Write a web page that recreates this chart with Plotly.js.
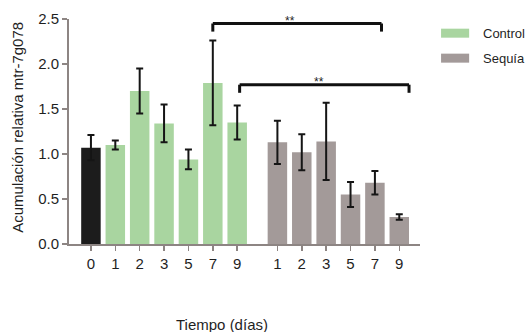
<!DOCTYPE html>
<html>
<head>
<meta charset="utf-8">
<script src="https://cdn.plot.ly/plotly-3.0.1.min.js"></script>
<style>html,body{margin:0;padding:0;background:#fff;}#chart{width:527px;height:332px;}</style>
</head>
<body>
<div id="chart"></div>
<script>
// ---- data ----
const baseDay = ["0"];
const baseValue = [1.07];
const baseErr = [0.14];

const controlDays = ["1", "2", "3", "5", "7", "9"];
const controlValues = [1.10, 1.70, 1.34, 0.94, 1.79, 1.35];
const controlErr = [0.05, 0.25, 0.21, 0.11, 0.47, 0.19];

const sequiaDays = ["1", "2", "3", "5", "7", "9"];
const sequiaValues = [1.13, 1.02, 1.14, 0.55, 0.68, 0.30];
const sequiaErr = [0.24, 0.20, 0.43, 0.14, 0.13, 0.03];

const seriesNames = ["Control", "Sequía"];
const yTitle = "Acumulación relativa mtr-7g078";
const xTitle = "Tiempo (días)";
const sigLabel = "**";

// ---- layout positions (computed) ----
const groupGap = 0.65;
const basePos = [0];
const controlPos = controlDays.map((d, i) => i + 1);
const sequiaPos = sequiaDays.map((d, i) => controlDays.length + 1 + groupGap + i);
const xRange = [-0.9, sequiaPos[sequiaPos.length - 1] + 0.85];
const yMax = 2.5;

const green = "#a9d5a0";
const grey = "#a39a99";
const axisCol = "#8d8583";
const errStyle = (arr) => ({type: "data", array: arr, visible: true, color: "#151515", thickness: 2, width: 3.5});

const traces = [
  {type: "bar", x: basePos, y: baseValue, error_y: errStyle(baseErr), marker: {color: "#1c1c1c"}, width: 0.8, showlegend: false, name: "0"},
  {type: "bar", x: controlPos, y: controlValues, error_y: errStyle(controlErr), marker: {color: green}, width: 0.8, showlegend: false, name: seriesNames[0]},
  {type: "bar", x: sequiaPos, y: sequiaValues, error_y: errStyle(sequiaErr), marker: {color: grey}, width: 0.8, showlegend: false, name: seriesNames[1]}
];

const py = v => v / yMax; // value -> paper y
function bracket(x0, x1, yTop, yDrop) {
  const line = {color: "#111", width: 3};
  return [
    {type: "line", xref: "x", yref: "paper", x0: x0, x1: x1, y0: py(yTop), y1: py(yTop), line: line},
    {type: "line", xref: "x", yref: "paper", x0: x0, x1: x0, y0: py(yTop), y1: py(yDrop), line: line},
    {type: "line", xref: "x", yref: "paper", x0: x1, x1: x1, y0: py(yTop), y1: py(yDrop), line: line}
  ];
}

const shapes = [].concat(
  bracket(controlPos[4], sequiaPos[4] + 0.27, 2.45, 2.36),
  bracket(controlPos[5] + 0.1, sequiaPos[5] + 0.4, 1.77, 1.68),
  [
    {type: "rect", xref: "paper", yref: "paper", x0: 1.06, x1: 1.14, y0: 0.917, y1: 0.957, fillcolor: green, line: {width: 0}},
    {type: "rect", xref: "paper", yref: "paper", x0: 1.06, x1: 1.14, y0: 0.806, y1: 0.846, fillcolor: grey, line: {width: 0}}
  ]
);

const font = {family: "Liberation Sans, Arial, sans-serif", color: "#1f1f1f"};
const annotations = [
  {text: sigLabel, xref: "x", yref: "paper", x: 8.17, y: py(2.58), showarrow: false, font: Object.assign({}, font, {size: 12})},
  {text: sigLabel, xref: "x", yref: "paper", x: 9.36, y: py(1.90), showarrow: false, font: Object.assign({}, font, {size: 12})},
  {text: seriesNames[0], xref: "paper", yref: "paper", x: 1.174, y: 0.937, xanchor: "left", yanchor: "middle", showarrow: false, font: Object.assign({}, font, {size: 13})},
  {text: seriesNames[1], xref: "paper", yref: "paper", x: 1.174, y: 0.826, xanchor: "left", yanchor: "middle", showarrow: false, font: Object.assign({}, font, {size: 13})},
  {text: yTitle, xref: "paper", yref: "paper", x: -0.145, y: 0.517, textangle: -90, xanchor: "center", yanchor: "middle", showarrow: false, font: Object.assign({}, font, {size: 15})},
  {text: xTitle, xref: "paper", yref: "paper", x: 0.436, y: -0.356, xanchor: "center", yanchor: "middle", showarrow: false, font: Object.assign({}, font, {size: 15})}
];

const layout = {
  width: 527, height: 332,
  margin: {l: 69, r: 107, t: 19, b: 88},
  paper_bgcolor: "#fff", plot_bgcolor: "#fff",
  font: font,
  showlegend: false,
  bargap: 0.2,
  xaxis: {
    range: xRange, showgrid: false, zeroline: false,
    showline: true, linecolor: axisCol, linewidth: 2,
    ticks: "outside", ticklen: 5, tickwidth: 1.5, tickcolor: axisCol,
    tickvals: basePos.concat(controlPos, sequiaPos),
    ticktext: baseDay.concat(controlDays, sequiaDays),
    tickfont: {size: 15, family: font.family, color: "#1f1f1f"}
  },
  yaxis: {
    range: [0, yMax], showgrid: false, zeroline: false,
    showline: true, linecolor: axisCol, linewidth: 2,
    ticks: "outside", ticklen: 5, tickwidth: 1.5, tickcolor: axisCol,
    tickvals: [0, 0.5, 1.0, 1.5, 2.0, 2.5],
    ticktext: ["0.0", "0.5", "1.0", "1.5", "2.0", "2.5"],
    tickfont: {size: 15, family: font.family, color: "#1f1f1f"}
  },
  shapes: shapes,
  annotations: annotations
};

Plotly.newPlot("chart", traces, layout, {staticPlot: true});
</script>
</body>
</html>
